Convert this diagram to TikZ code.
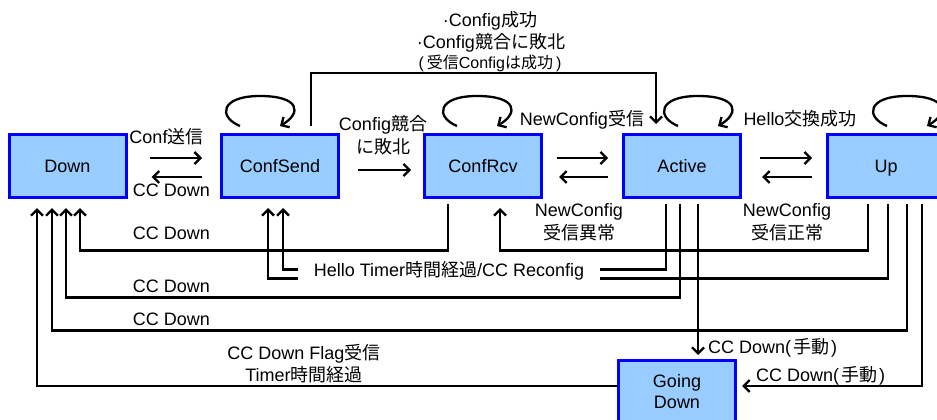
\documentclass[tikz,border=0pt]{standalone}
\usepackage{fontspec}
\setmainfont{Liberation Sans}
\newfontfamily\jpfont{Noto Sans CJK JP}
\newcommand\J[1]{{\jpfont #1}}
\usetikzlibrary{arrows.meta}
\definecolor{boxfill}{HTML}{99CCFF}
\definecolor{boxline}{HTML}{0000FF}

\begin{document}
\begin{tikzpicture}[x=1pt,y=-1pt,
  every node/.style={font=\fontsize{18}{22}\selectfont},
  state/.style={draw=boxline, fill=boxfill, line width=3pt,
    minimum width=117pt, minimum height=63pt, inner sep=0pt},
  conn/.style={line width=2.3pt, -{Straight Barb[length=6pt,width=12pt]}},
  lbl/.style={inner sep=0pt, anchor=base}]

\useasboundingbox (0,0) rectangle (937,420);
\clip (0,0) rectangle (937,420);

% states
\node[state, text height=13pt, text depth=0pt] (Down)     at (67.5,166) {Down};
\node[state, text height=13pt, text depth=0pt] (ConfSend) at (280,166)  {ConfSend};
\node[state, text height=13pt, text depth=0pt] (ConfRcv)  at (483,166)  {ConfRcv};
\node[state, text height=13pt, text depth=0pt] (Active)   at (682,166)  {Active};
\node[state, text height=13pt, text depth=0pt] (Up)       at (886,166)  {Up};
\node[state, align=center, font=\fontsize{18}{21}\selectfont] (GoingDown) at (677,392) {Going\\Down};

% self loops above the states
\foreach \n/\o in {ConfSend/-40,ConfRcv/-26,Active/-4,Up/1}{
  \begin{scope}[shift={(\n.north)}, xshift=\o pt]
    \draw[conn] (0,-7) .. controls (-22,-16) and (-20,-37) .. (20,-37)
                .. controls (60,-37) and (62,-20) .. (40,-7);
  \end{scope}}

% transitions between neighbouring states
\draw[conn] ([xshift=22pt,yshift=8pt]Down.east) -- ([xshift=-18pt,yshift=8pt]ConfSend.west);
\draw[conn] ([xshift=-18pt,yshift=-11pt]ConfSend.west) -- ([xshift=24pt,yshift=-11pt]Down.east);
\draw[conn] ([xshift=18pt,yshift=-4pt]ConfSend.east) -- ([xshift=-12pt,yshift=-4pt]ConfRcv.west);
\draw[conn] ([xshift=14pt,yshift=8pt]ConfRcv.east) -- ([xshift=-14pt,yshift=8pt]Active.west);
\draw[conn] ([xshift=-14pt,yshift=-11pt]Active.west) -- ([xshift=16pt,yshift=-11pt]ConfRcv.east);
\draw[conn] ([xshift=18pt,yshift=8pt]Active.east) -- ([xshift=-14pt,yshift=8pt]Up.west);
\draw[conn] ([xshift=-14pt,yshift=-11pt]Up.west) -- ([xshift=20pt,yshift=-11pt]Active.east);

% ConfSend straight to Active over the top
\draw[conn] ([xshift=31pt,yshift=7pt]ConfSend.north) -- ++(0,-53)
            -| ([xshift=-26pt,yshift=9pt]Active.north);

% return paths below the states
\draw[conn] ([xshift=-35pt,yshift=-5pt]ConfRcv.south) -- ++(0,46.5)
            -| ([xshift=12.5pt,yshift=-9pt]Down.south);
\draw[conn] ([xshift=-2pt,yshift=-5pt]Active.south) -- ++(0,93.5)
            -| ([xshift=-1.5pt,yshift=-9pt]Down.south);
\draw[conn] ([xshift=21pt,yshift=-5pt]Up.south) -- ++(0,126.5)
            -| ([xshift=-15.5pt,yshift=-9pt]Down.south);
\draw[conn] ([yshift=6pt]GoingDown.west)
            -| ([xshift=-30.5pt,yshift=-9pt]Down.south);
\draw[conn] ([xshift=-16pt,yshift=-5pt]Active.south) -- ++(0,65.5)
            -| ([xshift=3pt,yshift=-9pt]ConfSend.south);
\draw[conn] ([xshift=2pt,yshift=-5pt]Up.south) -- ++(0,74.5)
            -| ([xshift=-12pt,yshift=-9pt]ConfSend.south);
\draw[conn] ([xshift=-18pt,yshift=-5pt]Up.south) -- ++(0,46.5)
            -| ([xshift=17pt,yshift=-9pt]ConfRcv.south);
\draw[conn] ([xshift=16pt,yshift=-5pt]Active.south) -- ([xshift=21pt,yshift=4pt]GoingDown.north);
\draw[conn] ([xshift=36pt,yshift=-5pt]Up.south) |- ([xshift=5pt,yshift=6pt]GoingDown.east);

% labels
\node[lbl] (tSend)   at (166.5,143.5) {Conf\J{送信}};
\node[lbl] (tDown1)  at (171.5,196.5) {CC Down};
\node[lbl] (tLose1)  at (383,130.5)   {Config\J{競合}};
\node[lbl] (tLose2)  at (383,153.5)   {\J{に敗北}};
\node[lbl] (tNew)    at (582,125.5)   {NewConfig\J{受信}};
\node[lbl] (tHello)  at (800,125.5)   {Hello\J{交換成功}};
\node[lbl] (tTop1)   at (490,26.5)    {·Config\J{成功}};
\node[lbl] (tTop2)   at (491,48.5)    {·Config\J{競合に敗北}};
\node[lbl, font=\fontsize{16}{18}\selectfont] (tTop3) at (490,68.5)
     {(\kern3pt\J{受信}Config\J{は成功}\kern3pt)};
\node[lbl] (tDown2)  at (171.5,239.5) {CC Down};
\node[lbl] (tDown3)  at (171.5,292.5) {CC Down};
\node[lbl] (tDown4)  at (171.5,325.5) {CC Down};
\node[lbl] (tBad1)   at (579,216.5)   {NewConfig};
\node[lbl] (tBad2)   at (579,239.5)   {\J{受信異常}};
\node[lbl] (tGood1)  at (787,216.5)   {NewConfig};
\node[lbl] (tGood2)  at (787,239.5)   {\J{受信正常}};
\node[fill=white, inner sep=0pt, minimum width=302pt, minimum height=24pt,
      text height=13pt, text depth=4pt] (tReconf) at (449,272)
     {Hello Timer\J{時間経過}/CC Reconfig};
\node[lbl] (tFlag1)  at (304,359.5)   {CC Down Flag\J{受信}};
\node[lbl] (tFlag2)  at (304,381.5)   {Timer\J{時間経過}};
\node[lbl, anchor=base west] (tMan1) at (708,353.5) {CC Down(\kern2pt\J{手動}\kern2pt)};
\node[lbl, anchor=base west] (tMan2) at (756,381.5) {CC Down(\kern2pt\J{手動}\kern2pt)};
\end{tikzpicture}
\end{document}
